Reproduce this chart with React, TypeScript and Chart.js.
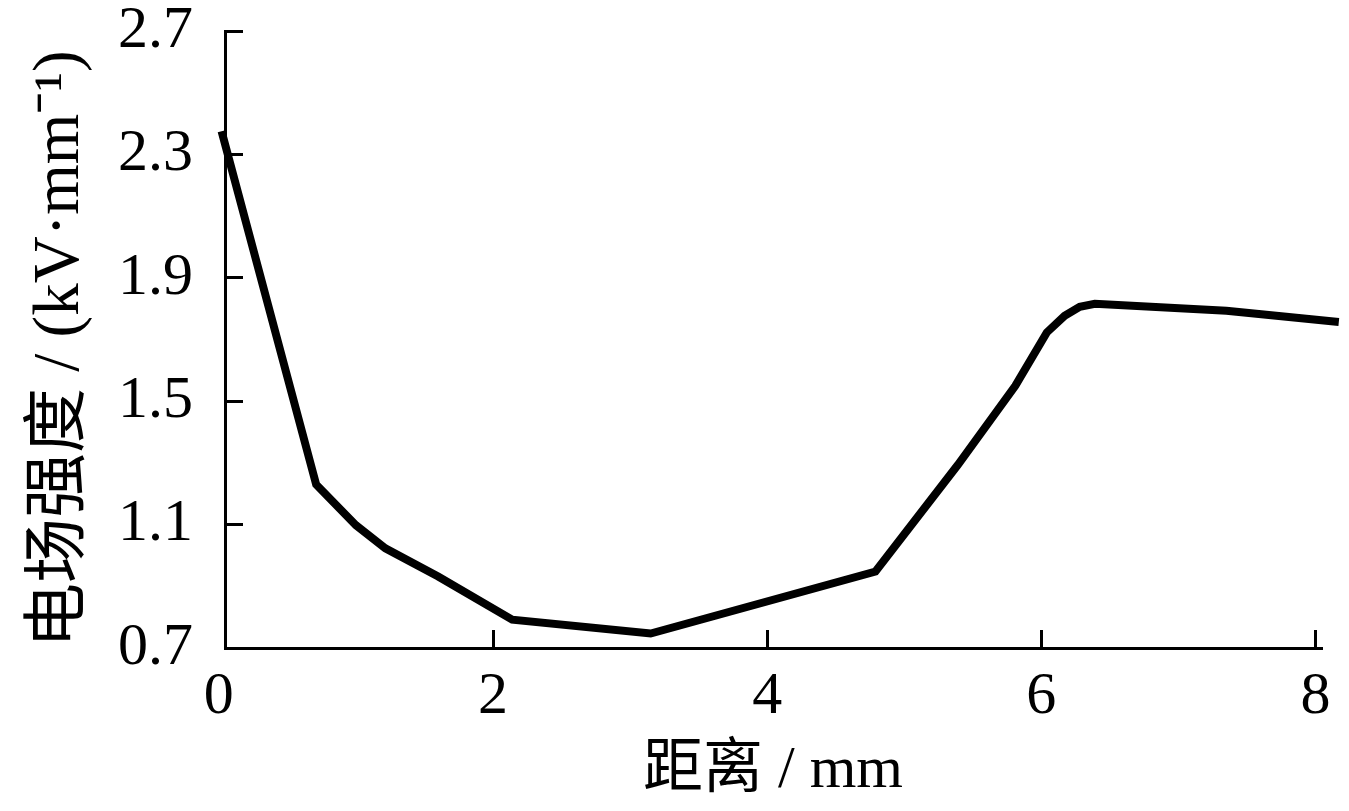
import React, { useEffect, useRef } from "react";
import { Chart, registerables } from "chart.js";

Chart.register(...registerables);

// Data
const distance = [0.02, 0.71, 1.0, 1.215, 1.6, 2.14, 3.15, 4.79, 5.39, 5.81, 6.04, 6.17, 6.28, 6.39, 7.35, 8.17];
const fieldStrength = [2.375, 1.23, 1.098, 1.023, 0.932, 0.792, 0.747, 0.948, 1.293, 1.55, 1.723, 1.777, 1.806, 1.816, 1.793, 1.757];

const xTicks = [0, 2, 4, 6, 8];
const xTickLabels = ["0", "2", "4", "6", "8"];
const yTicks = [0.7, 1.1, 1.5, 1.9, 2.3, 2.7];
const yTickLabels = ["0.7", "1.1", "1.5", "1.9", "2.3", "2.7"];

const xTitle = "距离 / mm";
const yTitle = "电场强度 / (kV·mm⁻¹)";

const FONT = '"Liberation Serif", "Noto Sans CJK SC", serif';

export default function App() {
  const canvasRef = useRef<HTMLCanvasElement | null>(null);

  useEffect(() => {
    const canvas = canvasRef.current;
    if (!canvas) return;
    const points = distance.map((x, i) => ({ x, y: fieldStrength[i] }));
    const chart = new Chart(canvas, {
      type: "line",
      data: {
        datasets: [
          {
            data: points,
            borderColor: "#000",
            borderWidth: 8,
            pointRadius: 0,
            tension: 0,
            fill: false,
            clip: false as any,
          },
        ],
      },
      options: {
        animation: false,
        responsive: false,
        events: [],
        layout: { padding: { left: 0, top: 31, right: 28, bottom: 0 } },
        plugins: { legend: { display: false }, tooltip: { enabled: false } },
        scales: {
          x: {
            type: "linear",
            min: 0.045,
            max: 8.04,
            afterBuildTicks: (scale: any) => {
              scale.ticks = xTicks.map((v) => ({ value: v }));
            },
            afterFit: (scale: any) => {
              scale.height = 163;
              scale.paddingLeft = 0;
              scale.paddingRight = 0;
            },
            ticks: {
              autoSkip: false,
              maxRotation: 0,
              color: "#000",
              padding: 31,
              font: { family: FONT, size: 60 },
              callback: (_v: any, i: number) => xTickLabels[i],
            },
            grid: {
              drawOnChartArea: false,
              drawTicks: true,
              tickLength: -18,
              lineWidth: 3,
              color: (ctx: any) =>
                ctx.tick && ctx.tick.value === 0 ? "rgba(0,0,0,0)" : "#000",
            },
            border: { display: true, color: "#000", width: 3 },
            title: {
              display: true,
              text: xTitle,
              color: "#000",
              font: { family: FONT, size: 60 },
              padding: { top: 0, bottom: 4 },
            },
          },
          y: {
            type: "linear",
            min: 0.7,
            max: 2.7,
            afterBuildTicks: (scale: any) => {
              scale.ticks = yTicks.map((v) => ({ value: v }));
            },
            afterFit: (scale: any) => {
              scale.width = 225;
              scale.paddingTop = 0;
              scale.paddingBottom = 0;
            },
            ticks: {
              autoSkip: false,
              color: "#000",
              padding: 50,
              font: { family: FONT, size: 60 },
              callback: (_v: any, i: number) => yTickLabels[i],
            },
            grid: {
              drawOnChartArea: false,
              drawTicks: true,
              tickLength: -18,
              lineWidth: 3,
              color: "#000",
            },
            border: { display: true, color: "#000", width: 3 },
            title: {
              display: true,
              text: yTitle,
              align: "start",
              color: "#000",
              font: { family: FONT, size: 65 },
              padding: { top: 22, bottom: 0 },
            },
          },
        },
      },
    });
    return () => chart.destroy();
  }, []);

  return (
    <div style={{ position: "fixed", left: 0, top: 0, width: 1349, height: 811, background: "#fff" }}>
      <canvas ref={canvasRef} width={1349} height={811} style={{ display: "block" }} />
    </div>
  );
}
